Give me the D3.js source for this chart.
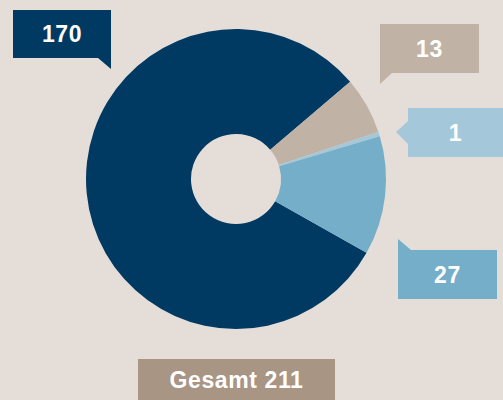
<!DOCTYPE html>
<html><head><meta charset="utf-8">
<script src="https://cdn.jsdelivr.net/npm/d3@7"></script>
<style>
html,body{margin:0;padding:0;background:#e5ded8;}
svg{display:block;}
text{font-family:"Liberation Sans",Arial,sans-serif;font-weight:bold;fill:#fff;letter-spacing:0.6px;}
</style></head>
<body><svg id="c" width="503" height="400"></svg>
<script>
const categories = ["A", "B", "C", "D"];
const values = [170, 13, 1, 27];
const colors = ["#003a63", "#c0b3a6", "#a4c8d9", "#74aec8"];
const totalLabel = "Gesamt";

const svg = d3.select("#c");
const W = 503, H = 400;
svg.append("rect").attr("width", W).attr("height", H).attr("fill", "#e5ded8");

const cx = 236, cy = 179, rOut = 150, rIn = 45;
const start = 119.5 * Math.PI / 180;
const pie = d3.pie().sort(null).startAngle(start).endAngle(start + 2 * Math.PI);
const arc = d3.arc().innerRadius(rIn).outerRadius(rOut);
const arcs = pie(values);
const g = svg.append("g").attr("transform", `translate(${cx},${cy})`);
g.selectAll("path").data(arcs).enter().append("path")
  .attr("d", arc).attr("fill", (d, i) => colors[i]);

// callout boxes (layout only)
const boxes = [
  {x: 13, y: 10, w: 98, h: 48, tail: [[98,58],[111,58],[111,69]]},
  {x: 380, y: 24, w: 99, h: 49, tail: [[380,73],[392,73],[380,84]]},
  {x: 408, y: 108, w: 95, h: 49, tail: [[408,121],[396,132],[408,144]]},
  {x: 398, y: 250, w: 99, h: 49, tail: [[398,250],[398,239],[411,250]]}
];
boxes.forEach((b, i) => {
  svg.append("rect").attr("x", b.x).attr("y", b.y).attr("width", b.w).attr("height", b.h).attr("fill", colors[i]);
  svg.append("polygon").attr("points", b.tail.map(p => p.join(",")).join(" ")).attr("fill", colors[i]);
  svg.append("text").attr("x", b.x + b.w / 2).attr("y", b.y + b.h / 2 + 8)
    .attr("text-anchor", "middle").attr("font-size", 23).text(values[i]);
});

const total = d3.sum(values);
svg.append("rect").attr("x", 138).attr("y", 359).attr("width", 197).attr("height", 41).attr("fill", "#a89584");
svg.append("text").attr("x", 236.5).attr("y", 388).attr("text-anchor", "middle").attr("font-size", 23)
  .text(totalLabel + " " + total);
</script></body></html>
